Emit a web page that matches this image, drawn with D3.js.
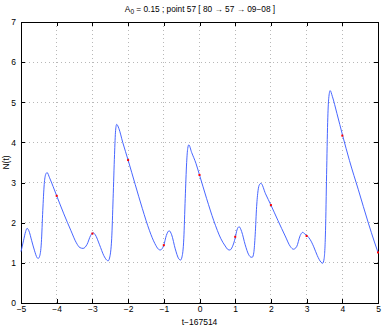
<!DOCTYPE html>
<html><head><meta charset="utf-8">
<script src="https://cdn.jsdelivr.net/npm/d3@7"></script>
<style>body{margin:0;background:#fff}svg{display:block}text{font-family:"Liberation Sans",Arial,sans-serif;fill:#000}</style>
</head><body>
<script>
const tValues = [-5,-4.93,-4.87,-4.83,-4.78,-4.70,-4.62,-4.55,-4.52,-4.48,-4.43,-4.39,-4.35,-4.31,-4.27,-4.20,-4.10,-4.00,-3.80,-3.60,-3.45,-3.35,-3.26,-3.15,-3.05,-2.98,-2.92,-2.80,-2.68,-2.60,-2.56,-2.52,-2.46,-2.42,-2.38,-2.35,-2.32,-2.26,-2.15,-2.00,-1.80,-1.60,-1.40,-1.25,-1.15,-1.10,-1.05,-1.00,-0.93,-0.85,-0.78,-0.68,-0.58,-0.53,-0.49,-0.44,-0.40,-0.36,-0.33,-0.30,-0.22,-0.10,0.00,0.20,0.40,0.60,0.72,0.80,0.85,0.92,1.00,1.05,1.11,1.18,1.28,1.38,1.45,1.48,1.52,1.56,1.60,1.64,1.68,1.72,1.85,2.00,2.20,2.40,2.55,2.63,2.72,2.82,2.89,2.95,3.02,3.10,3.20,3.30,3.40,3.45,3.49,3.53,3.56,3.59,3.62,3.66,3.72,3.85,4.01,4.20,4.45,4.73,4.90,5.00];
const nValues = [1.28,1.55,1.78,1.86,1.80,1.55,1.30,1.13,1.11,1.16,1.50,2.30,2.95,3.20,3.25,3.12,2.90,2.67,2.22,1.80,1.50,1.38,1.36,1.46,1.68,1.75,1.70,1.45,1.18,1.07,1.05,1.12,1.60,2.60,3.70,4.30,4.45,4.35,4.00,3.56,2.95,2.35,1.80,1.48,1.34,1.32,1.35,1.44,1.68,1.80,1.70,1.35,1.10,1.07,1.15,1.60,2.60,3.50,3.85,3.94,3.75,3.48,3.19,2.60,2.05,1.60,1.42,1.33,1.32,1.40,1.62,1.82,1.90,1.78,1.45,1.20,1.14,1.14,1.25,1.70,2.40,2.80,2.95,2.98,2.72,2.44,2.05,1.67,1.40,1.34,1.40,1.68,1.76,1.72,1.67,1.58,1.40,1.18,1.02,0.99,1.10,1.80,3.20,4.50,5.10,5.29,5.15,4.72,4.17,3.55,2.82,1.99,1.52,1.26];
const markT = [-4,-3,-2,-1,0,1,2,3,4,5];
const markN = [2.67,1.73,3.56,1.44,3.19,1.65,2.44,1.67,4.17,1.26];
const xTicks = [-5,-4,-3,-2,-1,0,1,2,3,4,5];
const yTicks = [0,1,2,3,4,5,6,7];
const titleMain = "A", titleSub = "0", titleRest = " = 0.15 ; point 57 [ 80 \u2192 57 \u2192 09\u221208 ]";
const xLabel = "t\u2212167514", yLabel = "N(t)";

const W=386,H=327, L=21,R=378,T=22,B=303;
const svg=d3.select("body").append("svg").attr("width",W).attr("height",H);
const x=d3.scaleLinear().domain([-5,5]).range([L,R]);
const y=d3.scaleLinear().domain([0,7]).range([B,T]);
const fmt=d=>String(d).replace("-","\u2212");

// grid
const g=svg.append("g");
g.selectAll(".gx").data(xTicks.slice(1,-1)).join("line").attr("x1",d=>x(d)).attr("x2",d=>x(d)).attr("y1",T).attr("y2",B)
 .attr("stroke","#b8b8b8").attr("stroke-width",1).attr("stroke-dasharray","1,3").attr("shape-rendering","crispEdges");
g.selectAll(".gy").data(yTicks.slice(1,-1)).join("line").attr("y1",d=>y(d)).attr("y2",d=>y(d)).attr("x1",L).attr("x2",R)
 .attr("stroke","#b8b8b8").attr("stroke-width",1).attr("stroke-dasharray","1,3").attr("shape-rendering","crispEdges");

// axes
const axB=d3.axisBottom(x).tickValues(xTicks).tickSize(-4).tickPadding(3).tickFormat(fmt);
const axT=d3.axisTop(x).tickValues(xTicks).tickSize(-4).tickFormat("");
const axLft=d3.axisLeft(y).tickValues(yTicks).tickSize(-4).tickPadding(5).tickFormat(fmt);
const axRt=d3.axisRight(y).tickValues(yTicks).tickSize(-4).tickFormat("");
[[axB,`translate(0,${B})`],[axT,`translate(0,${T})`],[axLft,`translate(${L},0)`],[axRt,`translate(${R},0)`]].forEach(([a,tr])=>{
  const s=svg.append("g").attr("transform",tr).call(a);
  s.select(".domain").remove();
  s.selectAll("line").attr("stroke","#000").attr("shape-rendering","crispEdges");
  s.selectAll("text").attr("font-size",8.5).style("font-family","Liberation Sans, Arial, sans-serif");
});
svg.append("rect").attr("x",L).attr("y",T).attr("width",R-L).attr("height",B-T).attr("fill","none").attr("stroke","#000").attr("stroke-width",1).attr("shape-rendering","crispEdges");

// curve
const pts=tValues.map((t,i)=>[t,nValues[i]]);
svg.append("path").datum(pts).attr("fill","none").attr("stroke","#3355ff").attr("stroke-width",0.9)
 .attr("d",d3.line().x(d=>x(d[0])).y(d=>y(d[1])).curve(d3.curveMonotoneX));
svg.selectAll(".mk").data(markT.map((t,i)=>[t,markN[i]])).join("rect")
 .attr("x",d=>x(d[0])-1).attr("y",d=>y(d[1])-1).attr("width",2).attr("height",2).attr("fill","#ff0000");

// labels
const tt=svg.append("text").attr("x",200).attr("y",12).attr("text-anchor","middle").attr("font-size",8.3);
tt.append("tspan").text(titleMain);
tt.append("tspan").text(titleSub).attr("font-size",6.5).attr("dy",2);
tt.append("tspan").text(titleRest).attr("dy",-2);
svg.append("text").attr("x",(L+R)/2).attr("y",325).attr("text-anchor","middle").attr("font-size",8.5).text(xLabel);
svg.append("text").attr("transform",`translate(9,${(T+B)/2}) rotate(-90)`).attr("text-anchor","middle").attr("font-size",8.5).text(yLabel);
</script>
</body></html>
